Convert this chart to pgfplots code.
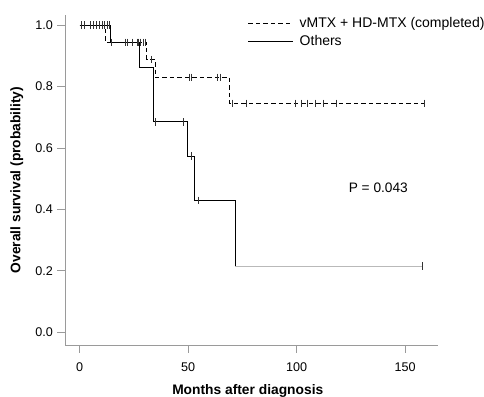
\documentclass[border=0pt]{standalone}
\usepackage{fontspec}
\setmainfont{Liberation Sans}
\usepackage{pgfplots}
\pgfplotsset{compat=1.18}
\definecolor{axgray}{HTML}{9A9A9A}
\begin{document}
\begin{tikzpicture}
\useasboundingbox (-65pt,-51pt) rectangle (419pt,345pt);
\begin{axis}[
  at={(0,0)}, anchor=south west,
  scale only axis, width=373pt, height=330pt,
  xmin=-6.7, xmax=165.2, ymin=-0.042, ymax=1.033,
  axis lines=left,
  axis line style={axgray, line width=0.8pt, -},
  every tick/.style={axgray, line width=0.8pt},
  tick align=outside, major tick length=7.5pt,
  xtick={0,50,100,150},
  ytick={0,0.2,0.4,0.6,0.8,1.0},
  yticklabel style={/pgf/number format/fixed, /pgf/number format/fixed zerofill, /pgf/number format/precision=1, xshift=-1pt},
  /pgf/number format/assume math mode=true,
  tick label style={font=\fontsize{12.6}{14}\selectfont, black},
  xticklabel style={yshift=-6.5pt},
  xlabel={Months after diagnosis},
  ylabel={Overall survival (probability)},
  label style={font=\bfseries\fontsize{13.8}{15}\selectfont},
  xlabel style={at={(axis description cs:0.49,-0.138)}, anchor=center},
  ylabel style={at={(axis description cs:-0.129,0.5)}, anchor=center},
  clip=false,
  legend cell align=left,
  legend style={draw=none, fill=none, at={(axis description cs:0.49,0.996)}, anchor=north west,
    inner sep=0pt, row sep=3pt, column sep=5pt,
    font=\fontsize{14}{15}\selectfont,
    nodes={inner sep=1pt, text height=10pt, text depth=2.5pt}},
  legend image code/.code={\draw[#1, mark=none] (0pt,0pt) -- (45pt,0pt);},
]
% vMTX + HD-MTX (completed)
\addplot[const plot, black, line width=0.75pt, dash pattern=on 4.5pt off 3pt] coordinates {
  (0,1.0) (12.1,0.944) (31.0,0.888) (34.8,0.830) (69.0,0.745) (158.8,0.745)};
\addlegendentry{vMTX + HD-MTX (completed)}
% Others
\addplot[const plot, black, line width=0.75pt] coordinates {
  (0,1.0) (14.4,0.944) (27.6,0.861) (34.0,0.685) (49.9,0.574) (52.9,0.429) (71.7,0.215)};
\addlegendentry{Others}
\addplot[forget plot, gray!55, line width=0.75pt] coordinates {(71.7,0.215) (158.0,0.215)};
% censor marks, vMTX
\addplot[forget plot, only marks, mark=|, mark size=3.7pt, mark options={black!80, line width=0.65pt}] coordinates {
  (1.0,1.0) (2.1,1.0) (4.8,1.0) (6.4,1.0) (7.9,1.0) (9.1,1.0) (10.4,1.0) (11.6,1.0)
  (28.2,0.944) (29.3,0.944) (30.2,0.944)
  (33.0,0.888)
  (50.5,0.830) (51.7,0.830) (63.5,0.830) (64.7,0.830)
  (70.6,0.745) (76.7,0.745) (99.3,0.745) (102.4,0.745) (105.0,0.745) (108.5,0.745) (112.5,0.745) (118.5,0.745) (158.8,0.745)};
% censor marks, Others
\addplot[forget plot, only marks, mark=|, mark size=3.7pt, mark options={black!80, line width=0.65pt}] coordinates {
  (12.6,1.0) (13.7,1.0)
  (14.8,0.944) (21.0,0.944) (22.0,0.944) (24.1,0.944) (26.6,0.944) (27.1,0.944)
  (34.8,0.685) (47.8,0.685)
  (51.7,0.574)
  (54.7,0.429)
  (158.0,0.215)};
\node[font=\fontsize{13.7}{15}\selectfont, anchor=center] at (axis cs:137.7,0.47) {P = 0.043};
\end{axis}
\end{tikzpicture}
\end{document}
